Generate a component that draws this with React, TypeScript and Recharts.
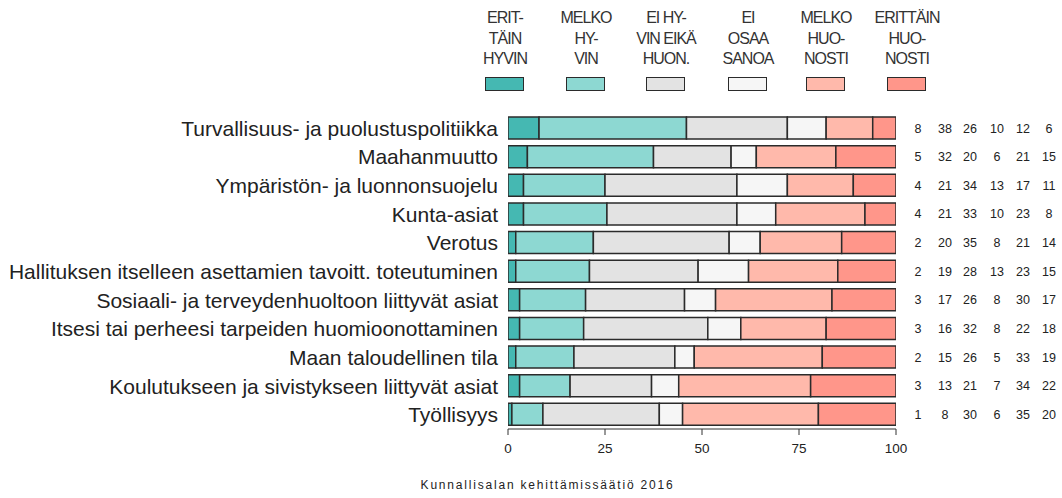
import { BarChart, Bar, XAxis, YAxis, LabelList } from "recharts";

const FONT = "'Liberation Sans', Arial, sans-serif";

const categories = [
  "Turvallisuus- ja puolustuspolitiikka",
  "Maahanmuutto",
  "Ympäristön- ja luonnonsuojelu",
  "Kunta-asiat",
  "Verotus",
  "Hallituksen itselleen asettamien tavoitt. toteutuminen",
  "Sosiaali- ja terveydenhuoltoon liittyvät asiat",
  "Itsesi tai perheesi tarpeiden huomioonottaminen",
  "Maan taloudellinen tila",
  "Koulutukseen ja sivistykseen liittyvät asiat",
  "Työllisyys",
];

// printed percentages (right-hand column)
const erittainHyvin = [8, 5, 4, 4, 2, 2, 3, 3, 2, 3, 1];
const melkoHyvin = [38, 32, 21, 21, 20, 19, 17, 16, 15, 13, 8];
const eiHyvinEikaHuonosti = [26, 20, 34, 33, 35, 28, 26, 32, 26, 21, 30];
const eiOsaaSanoa = [10, 6, 13, 10, 8, 13, 8, 8, 5, 7, 6];
const melkoHuonosti = [12, 21, 17, 23, 21, 23, 30, 22, 33, 34, 35];
const erittainHuonosti = [6, 15, 11, 8, 14, 15, 17, 18, 19, 22, 20];

// bar lengths (unrounded where the printed row doesn't total 100)
const barErittainHyvin = [8, 5, 4, 4, 2, 2, 3, 3, 2, 3, 1];
const barMelkoHyvin = [38, 32.5, 21, 21.5, 20, 19, 17, 16.5, 15, 13, 8];
const barEiHyvinEikaHuonosti = [26, 20, 34, 33.5, 35, 28, 25.5, 32, 26, 21, 30];
const barEiOsaaSanoa = [10, 6.5, 13, 10, 8, 13, 8, 8.5, 5, 7, 6];
const barMelkoHuonosti = [12, 20.5, 17, 23, 21, 23, 30, 22, 33, 34, 35];
const barErittainHuonosti = [6, 15.5, 11, 8, 14, 15, 16.5, 18, 19, 22, 20];

const legendLines = [
  ["ERIT-", "TÄIN", "HYVIN"],
  ["MELKO", "HY-", "VIN"],
  ["EI HY-", "VIN EIKÄ", "HUON."],
  ["EI", "OSAA", "SANOA"],
  ["MELKO", "HUO-", "NOSTI"],
  ["ERITTÄIN", "HUO-", "NOSTI"],
];
const colors = ["#45b8b2", "#8dd8d2", "#e3e3e3", "#f6f6f6", "#ffb9ab", "#ff968a"];
const xTicks = [0, 25, 50, 75, 100];

const legendX = [505, 586, 666, 748, 826, 907];
const columnX = [918, 945, 970, 997, 1023, 1049];

const barSeries = [
  barErittainHyvin,
  barMelkoHyvin,
  barEiHyvinEikaHuonosti,
  barEiOsaaSanoa,
  barMelkoHuonosti,
  barErittainHuonosti,
];
const printedSeries = [
  erittainHyvin,
  melkoHyvin,
  eiHyvinEikaHuonosti,
  eiOsaaSanoa,
  melkoHuonosti,
  erittainHuonosti,
];

const data = categories.map((name, i) => {
  const row: Record<string, string | number> = { name };
  barSeries.forEach((s, k) => (row["v" + k] = s[i]));
  printedSeries.forEach((s, k) => (row["p" + k] = s[i]));
  return row;
});

const columnLabel = (k: number) => (props: any) => {
  const vb = props.viewBox || {};
  const y = props.y ?? vb.y;
  const h = props.height ?? vb.height;
  return (
    <text
      x={columnX[k]}
      y={y + h / 2}
      dy={4.5}
      textAnchor="middle"
      fontSize={12.5}
      fontFamily={FONT}
      fill="#222"
    >
      {props.value}
    </text>
  );
};

export default function App() {
  return (
    <div
      style={{
        position: "absolute",
        left: 0,
        top: 0,
        width: 1062,
        height: 498,
        background: "#fff",
        fontFamily: FONT,
      }}
    >
      {legendLines.map((lines, k) => (
        <div key={k}>
          <div
            style={{
              position: "absolute",
              left: legendX[k] - 50,
              top: 8,
              width: 100,
              textAlign: "center",
              fontSize: 16,
              lineHeight: "20.5px",
              letterSpacing: -1,
              color: "#333",
            }}
          >
            {lines.map((l) => (
              <div key={l}>{l}</div>
            ))}
          </div>
          <div
            style={{
              position: "absolute",
              left: legendX[k] - 20,
              top: 77,
              width: 37,
              height: 12,
              background: colors[k],
              border: "1.5px solid #2b2b2b",
            }}
          />
        </div>
      ))}

      <BarChart
        width={1062}
        height={498}
        data={data}
        layout="vertical"
        margin={{ top: 114, right: 166, bottom: 39, left: 0 }}
        barSize={22}
      >
        <XAxis
          type="number"
          domain={[0, 100]}
          ticks={xTicks}
          allowDataOverflow
          height={30}
          tickSize={6}
          tickMargin={8}
          stroke="#333"
          tick={{ fontSize: 13.5, fill: "#222", fontFamily: FONT }}
        />
        <YAxis
          type="category"
          dataKey="name"
          width={508}
          axisLine={false}
          tickLine={false}
          tickSize={0}
          tickMargin={10}
          interval={0}
          tick={{ fontSize: 21, fill: "#222", fontFamily: FONT }}
        />
        {barSeries.map((_, k) => (
          <Bar
            key={k}
            dataKey={"v" + k}
            stackId="a"
            fill={colors[k]}
            stroke="#2b2b2b"
            strokeWidth={1.5}
            isAnimationActive={false}
          >
            <LabelList dataKey={"p" + k} content={columnLabel(k)} />
          </Bar>
        ))}
      </BarChart>

      <div
        style={{
          position: "absolute",
          left: 0,
          width: 1095,
          top: 478,
          textAlign: "center",
          fontSize: 12,
          letterSpacing: 1.8,
          color: "#222",
        }}
      >
        Kunnallisalan kehittämissäätiö 2016
      </div>
    </div>
  );
}
